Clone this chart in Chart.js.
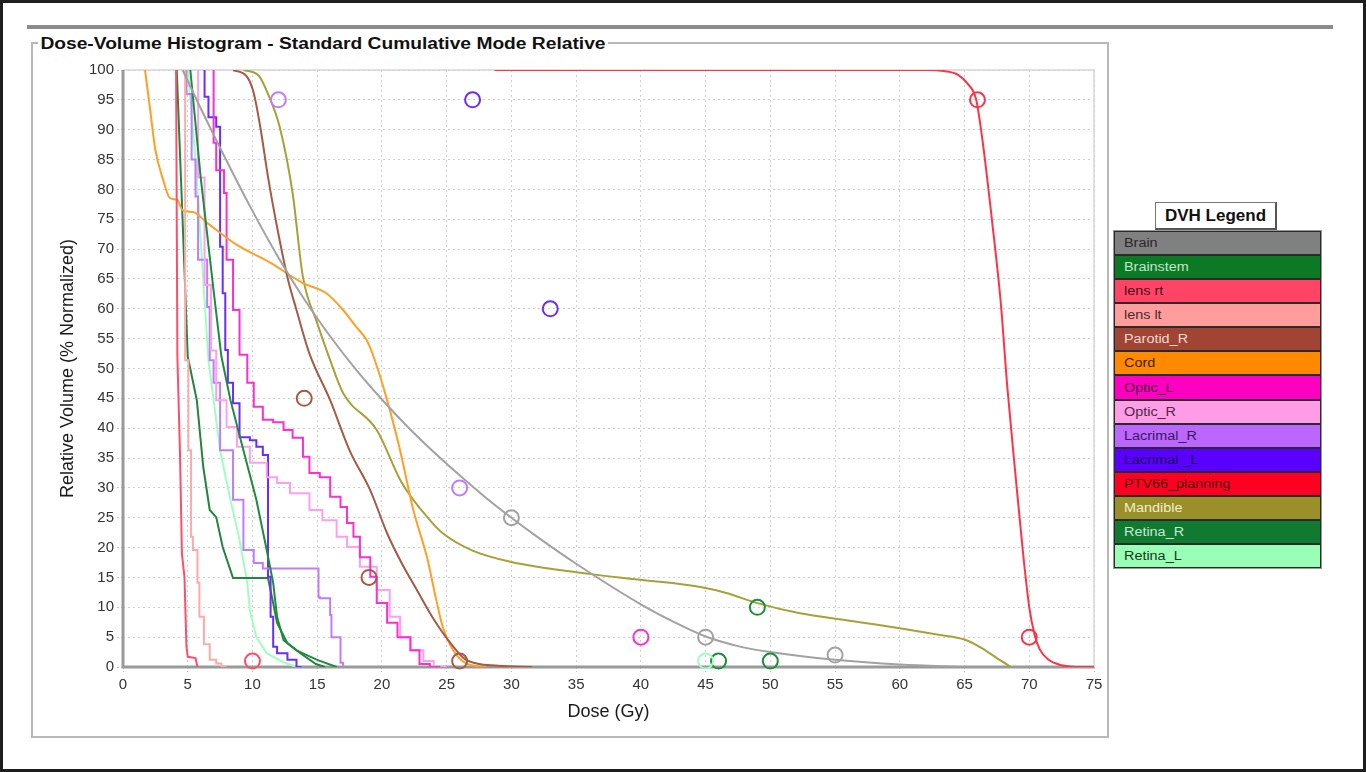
<!DOCTYPE html>
<html>
<head>
<meta charset="utf-8">
<script src="https://cdn.jsdelivr.net/npm/chart.js@4.4.0/dist/chart.umd.min.js"></script>
<style>
  html, body { margin: 0; padding: 0; background: #fff; }
  body { width: 1366px; height: 772px; position: relative; overflow: hidden; font-family: "Liberation Sans", Arial, sans-serif; }
  #frame { position: absolute; left: 0; top: 0; width: 1366px; height: 772px; box-sizing: border-box; border: 3px solid #1e1e1e; }
  #rule { position: absolute; left: 27px; top: 25px; width: 1306px; height: 4px; background: #8c8c8c; }
  #group { position: absolute; left: 31px; top: 42px; width: 1078px; height: 696px; box-sizing: border-box; border: 2px solid #b8b8b8; }
  #title { position: absolute; left: 38px; top: 34px; background: #fff; padding: 0 2px; font-weight: bold; font-size: 16px; line-height: 19px; color: #111; transform: scaleX(1.2); transform-origin: left center; white-space: nowrap; }
  #chart { position: absolute; left: 0; top: 0; }
  #legendTitle { position: absolute; left: 1155px; top: 202px; width: 122px; height: 28px; box-sizing: border-box; border: 1px solid #777; border-right: 2px solid #555; border-bottom: 2px solid #555; background: #fff; font-weight: bold; font-size: 17px; line-height: 25px; text-align: center; color: #111; }
  #legend { position: absolute; left: 1113px; top: 230px; width: 209px; height: 339px; box-sizing: border-box; border: 1px solid #999; display: flex; flex-direction: column; }
  .row { flex: 1; box-sizing: border-box; border: 1px solid #2a2a2a; font-size: 12px; padding-left: 9px; display: flex; align-items: center; }
  .row span { display: inline-block; transform: scaleX(1.2); transform-origin: left center; white-space: nowrap; }
</style>
</head>
<body>
<div id="frame"></div>
<div id="rule"></div>
<div id="group"></div>
<canvas id="chart" width="1366" height="772"></canvas>
<div id="title">Dose-Volume Histogram - Standard Cumulative Mode Relative</div>
<div id="legendTitle">DVH Legend</div>
<div id="legend"></div>
<script>
// structures, in legend order
const structures = ['Brain', 'Brainstem', 'lens rt', 'lens lt', 'Parotid_R', 'Cord', 'Optic_L', 'Optic_R',
  'Lacrimal_R', 'Lacrimal _L', 'PTV66_planning', 'Mandible', 'Retina_R', 'Retina_L'];

// dose (Gy) / relative volume (%)
const brainDose = [4.6, 6, 8, 10, 12, 14, 16, 18, 20, 22, 24, 26, 28, 30, 32, 35, 40, 42.5, 45, 47.5, 50, 55, 60, 65];
const brainVolume = [100, 93.6, 84.8, 76.4, 68.6, 61.6, 55.4, 49.8, 44.8, 40.2, 36, 32.1, 28.4, 25, 21.8, 17.3, 10.5, 7.6, 5.1, 3.5, 2.5, 1.2, 0.4, 0];

const brainstemDose = [5.2, 6, 7, 7.6, 8.3, 9.3, 10.3, 11.1, 11.6, 11.9, 12.4, 13.4, 15, 16.5];
const brainstemVolume = [100, 82, 63, 52, 44.7, 36.3, 28, 19.6, 14.1, 8.4, 4.5, 2.8, 1.2, 0];

const lensRtDose = [4.1, 4.2, 4.4, 4.55, 4.75, 4.9, 5.0, 5.6, 5.75];
const lensRtVolume = [100, 52, 36, 19, 15, 3.5, 1.7, 1.5, 0];

const lensLtDose = [4.8, 5.05, 5.25, 5.4, 5.75, 5.9, 6.25, 6.7, 7.2, 7.6, 8.0];
const lensLtVolume = [100, 51.4, 36.3, 21.8, 19.6, 14.1, 8.4, 3.8, 1.2, 0.6, 0];

const parotidDose = [8.5, 9.6, 10.1, 10.6, 11.2, 11.9, 12.7, 13.4, 14.4, 16, 17.5, 19.1, 20.4, 21.5, 22.7, 24, 25.3, 26.5, 29, 31.6];
const parotidVolume = [100, 98.8, 96.1, 90.5, 82.1, 73.7, 65.3, 59.8, 52.5, 44.7, 36.3, 29.6, 22.4, 17.5, 12.9, 8, 4, 1.2, 0.2, 0];

const cordDose = [1.7, 2.1, 2.5, 3.1, 3.6, 4.2, 4.6, 5.4, 6.5, 8.8, 11.4, 13.9, 15.7, 17, 18, 18.8, 19.3, 20.4, 21.4, 22.4, 23.5, 24.2, 24.7, 25.5, 26.5, 28];
const cordVolume = [100, 93.3, 86.6, 81.6, 78.6, 78.2, 76.5, 76.2, 74.4, 70.7, 67.7, 64.3, 62.6, 59.8, 57, 54.8, 52.3, 44.7, 36.3, 26.5, 18.2, 11.2, 6.7, 2.8, 0.6, 0];

const opticLDose = [7, 7.2, 7.5, 7.8, 8, 8.5, 9, 9.6, 10.1, 10.8, 11.6, 12.4, 13.1, 13.9, 14.4, 15.2, 16, 16.8, 17.3, 17.8, 18.3, 19.1, 19.6, 20.4, 21.2, 22.2, 22.9, 23.7, 24.5];
const opticLVolume = [100, 87.8, 83.2, 83.2, 79.4, 68.2, 59.8, 52.3, 47.6, 43.6, 41.4, 41, 39.7, 38.4, 35.2, 32.5, 31.8, 28.5, 26.8, 24.1, 21.8, 18.4, 15.1, 10.7, 7.4, 5, 2.8, 0.5, 0];

const opticRDose = [5.8, 6.3, 6.8, 7.2, 8, 8.8, 9.8, 11.1, 11.9, 12.9, 14.4, 15.4, 16.5, 17.3, 18.3, 19.6, 20.6, 21.4, 22.2, 23.2, 24, 25];
const opticRVolume = [100, 82, 64, 53, 44.7, 40.2, 36.9, 34.2, 31.8, 30.8, 29.1, 26.3, 24.6, 21.8, 20.1, 16.8, 12.9, 8.4, 5, 2.8, 1, 0];

const lacrimalRDose = [4.9, 5.3, 5.6, 5.8, 6.5, 6.7, 7, 7.5, 8.5, 9.3, 10.1, 10.8, 11.6, 15.1, 15.2, 16, 16.1, 16.8, 17, 17.1];
const lacrimalRVolume = [100, 96, 85, 78.8, 68.2, 60.3, 51.4, 47.6, 36.3, 28, 19.6, 17.4, 16.5, 16.5, 11.7, 11.5, 8.7, 5, 0.7, 0];

const lacrimalLDose = [6.3, 6.6, 7.2, 7.5, 7.7, 7.9, 8.1, 8.5, 9, 9.8, 10.3, 10.8, 11.2, 11.4, 11.6, 11.9, 12.7, 13.4, 13.8];
const lacrimalLVolume = [100, 95.5, 92.1, 90.5, 70.4, 62.6, 53.1, 47.6, 44.2, 38.5, 38, 36.9, 35.5, 15.1, 8.4, 3.4, 2.3, 1.2, 0];

const ptvDose = [28.7, 62, 63.5, 64.5, 65.2, 65.9, 66.4, 67.1, 67.8, 68.3, 68.9, 69.5, 70, 70.4, 70.8, 71.5, 72.5, 74, 75];
const ptvVolume = [100, 100, 99.8, 99.2, 97.8, 95, 88, 75.2, 61, 47, 33, 19.5, 10, 5.5, 3, 1.2, 0.3, 0, 0];

const mandibleDose = [9.3, 10.5, 11.2, 12.1, 13.1, 13.9, 15, 16, 17, 19.6, 21.5, 23.7, 24.7, 27, 30, 36, 40, 44.6, 46.6, 49, 52.3, 56, 60, 63, 65, 66.3, 67.5, 68.6];
const mandibleVolume = [100, 99, 96, 90.5, 79.4, 65.3, 57.6, 51.4, 45.9, 39.7, 31, 24.6, 22.4, 19.5, 17.6, 15.6, 14.6, 13.4, 12.4, 10.7, 9, 7.8, 6.5, 5.4, 4.6, 3.2, 1.5, 0];

const retinaRDose = [4.15, 4.6, 5.0, 5.7, 6.2, 6.7, 7.2, 7.7, 8.5, 11.2, 11.6, 11.9, 12.7, 13.7, 14.9, 15.6];
const retinaRVolume = [100, 75, 52, 44.7, 33.5, 26.3, 25.1, 20.1, 14.9, 14.9, 10.7, 7.4, 4, 2.3, 0.5, 0];

const retinaLDose = [5.0, 5.6, 6.6, 7, 7.5, 8.3, 9, 9.6, 9.8, 10.3, 11.1, 12.4, 13.4];
const retinaLVolume = [100, 85, 51.4, 44.7, 36.3, 28, 21.3, 14.1, 9.5, 5, 2.3, 0.8, 0];

// dose objectives drawn as open circles
const markerStructure = ['Lacrimal_R', 'Lacrimal _L', 'Lacrimal _L', 'PTV66_planning', 'PTV66_planning', 'Parotid_R', 'Parotid_R', 'Parotid_R',
  'Lacrimal_R', 'Brain', 'Brain', 'Brain', 'Optic_L', 'Brainstem', 'Brainstem', 'Brainstem', 'Retina_L', 'lens rt'];
const markerDose = [12, 27, 33, 66, 70, 14, 19, 26, 26, 30, 45, 55, 40, 49, 46, 50, 45, 10];
const markerVolume = [95, 95, 60, 95, 5, 45, 15, 1, 30, 25, 5, 2, 5, 10, 1, 1, 1, 1];

const xTicks = [0, 5, 10, 15, 20, 25, 30, 35, 40, 45, 50, 55, 60, 65, 70, 75];
const yTicks = [0, 5, 10, 15, 20, 25, 30, 35, 40, 45, 50, 55, 60, 65, 70, 75, 80, 85, 90, 95, 100];

// styling
const curves = [
  [brainDose, brainVolume], [brainstemDose, brainstemVolume], [lensRtDose, lensRtVolume], [lensLtDose, lensLtVolume],
  [parotidDose, parotidVolume], [cordDose, cordVolume], [opticLDose, opticLVolume], [opticRDose, opticRVolume],
  [lacrimalRDose, lacrimalRVolume], [lacrimalLDose, lacrimalLVolume], [ptvDose, ptvVolume], [mandibleDose, mandibleVolume],
  [retinaRDose, retinaRVolume], [retinaLDose, retinaLVolume]
];
const lineColors = ['#a2a2a2', '#1e8c3c', '#ff4d6a', '#ffaaaa', '#a65a45', '#ffa024', '#ff2fcf', '#ff9ff0',
  '#c07cff', '#6a2cff', '#ff3347', '#a8a038', '#23833f', '#a0ffc0'];
const legendFills = ['#808080', '#0c7a25', '#ff4466', '#ff9d9d', '#a04535', '#ff8a00', '#ff00c0', '#ff9ce6',
  '#bb66ff', '#5a00ff', '#ff0022', '#99902a', '#0f7a30', '#99ffb4'];
const legendText = ['#2a2a2a', '#bfe6c8', '#4a0f1c', '#4a2a2a', '#f0d8cc', '#3a2000', '#4a0038', '#4a2a44',
  '#3a1a55', '#1a0850', '#4a0008', '#f2eecc', '#c4e8cc', '#1a3a22'];
const smooth = ['Brain', 'Parotid_R', 'Cord', 'PTV66_planning', 'Mandible'];
const stepped = ['lens lt', 'Optic_L', 'Optic_R', 'Lacrimal_R', 'Lacrimal _L'];

// legend table
const legendBox = document.getElementById('legend');
structures.forEach(function (name, i) {
  const row = document.createElement('div');
  row.className = 'row';
  row.style.background = legendFills[i];
  row.style.color = legendText[i];
  const span = document.createElement('span');
  span.textContent = name;
  row.appendChild(span);
  legendBox.appendChild(row);
});

const datasets = [{
  label: 'objectives',
  data: markerDose.map(function (d, i) { return { x: d, y: markerVolume[i] }; }),
  showLine: false,
  pointRadius: 7.5,
  pointBorderWidth: 2,
  pointBackgroundColor: 'rgba(0,0,0,0)',
  pointBorderColor: markerStructure.map(function (s) { return lineColors[structures.indexOf(s)]; }),
  clip: false
}];

structures.forEach(function (name, i) {
  const dose = curves[i][0];
  const volume = curves[i][1];
  datasets.push({
    label: name,
    data: dose.map(function (d, k) { return { x: d, y: volume[k] }; }),
    borderColor: lineColors[i],
    borderWidth: 2,
    pointRadius: 0,
    fill: false,
    cubicInterpolationMode: smooth.includes(name) ? 'monotone' : 'default',
    tension: 0,
    stepped: stepped.includes(name) ? 'after' : false
  });
});

const framePlugin = {
  id: 'frame',
  beforeDatasetsDraw: function (chart) {
    const a = chart.chartArea;
    const ctx = chart.ctx;
    ctx.save();
    ctx.strokeStyle = '#d6d6d6';
    ctx.lineWidth = 1.5;
    ctx.beginPath();
    ctx.moveTo(a.left, a.top);
    ctx.lineTo(a.right, a.top);
    ctx.lineTo(a.right, a.bottom);
    ctx.stroke();
    ctx.strokeStyle = '#9a9a9a';
    ctx.lineWidth = 3;
    ctx.beginPath();
    ctx.moveTo(a.left, a.top);
    ctx.lineTo(a.left, a.bottom);
    ctx.lineTo(a.right, a.bottom);
    ctx.stroke();
    ctx.restore();
  }
};

new Chart(document.getElementById('chart').getContext('2d'), {
  type: 'line',
  data: { datasets: datasets },
  plugins: [framePlugin],
  options: {
    responsive: false,
    animation: false,
    devicePixelRatio: 1,
    layout: { padding: { left: 40, top: 70, right: 272, bottom: 40 } },
    plugins: { legend: { display: false }, tooltip: { enabled: false } },
    scales: {
      x: {
        type: 'linear',
        min: 0,
        max: 75,
        afterFit: function (scale) { scale.height = 65; },
        afterBuildTicks: function (scale) { scale.ticks = xTicks.map(function (v) { return { value: v }; }); },
        ticks: { color: '#333', font: { family: 'Liberation Sans', size: 15 }, padding: 4, maxRotation: 0 },
        grid: { color: '#d0d0d0', lineWidth: 1, tickLength: 5, tickColor: '#c4c4c4', tickBorderDash: [2, 2] },
        border: { display: false, dash: [2, 3] },
        title: { display: true, text: 'Dose (Gy)', color: '#1a1a1a', font: { family: 'Liberation Sans', size: 18 }, padding: { top: 0, bottom: 9 } }
      },
      y: {
        type: 'linear',
        min: 0,
        max: 100,
        afterFit: function (scale) { scale.width = 83; },
        afterBuildTicks: function (scale) { scale.ticks = yTicks.map(function (v) { return { value: v }; }); },
        ticks: { color: '#333', font: { family: 'Liberation Sans', size: 15 }, padding: 3 },
        grid: { color: '#d0d0d0', lineWidth: 1, tickLength: 6, tickColor: '#c4c4c4', tickBorderDash: [2, 2] },
        border: { display: false, dash: [2, 3] },
        title: { display: true, text: 'Relative Volume (% Normalized)', color: '#1a1a1a', font: { family: 'Liberation Sans', size: 18 }, padding: { top: 17, bottom: 0 } }
      }
    }
  }
});
</script>
</body>
</html>
